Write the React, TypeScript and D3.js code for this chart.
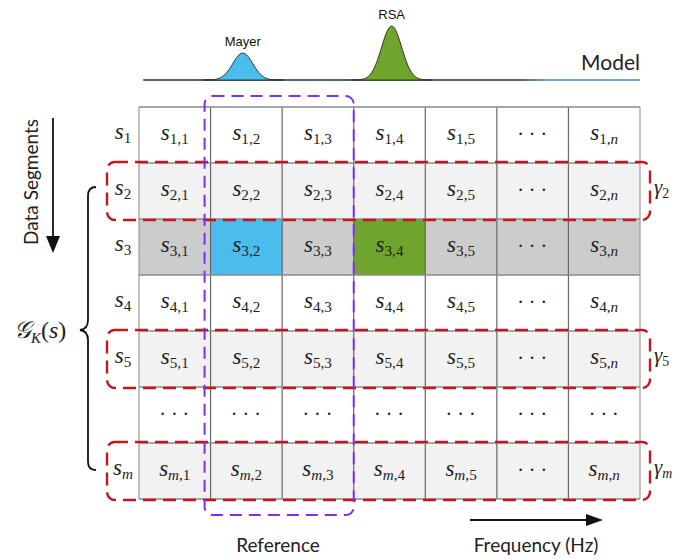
import * as d3 from "d3";

// rows (data segments) and columns (frequency bins)
const rowLabels = ["1", "2", "3", "4", "5", "dots", "m"];
const colLabels = ["1", "2", "3", "4", "5", "dots", "n"];
// row shading: 0 white, 1 light, 2 current segment
const rowShade = [0, 1, 2, 0, 1, 0, 1];
// grouped rows (red dashed) and their gamma labels
const groupRows = ["2", "5", "m"];
// highlighted cells in the current segment
const highlightCells = [
  { row: "3", col: "2", peak: "Mayer" },
  { row: "3", col: "4", peak: "RSA" },
];
// model peaks: centre in column units, width, relative height
const peakNames = ["Mayer", "RSA"];
const peakCenters = [1.45, 3.53];
const peakWidths = [0.14, 0.14];
const peakHeights = [0.5, 1.0];
const peakColors = ["#4bbdec", "#6fa52c"];
// reference columns (purple dashed)
const referenceCols = ["2", "3"];

const W = 694;
const H = 559;
const shadeFill = ["#ffffff", "#f2f2f2", "#cccccc"];
const red = "#c8141e";
const purple = "#7b2ff7";

const x = d3.scaleBand().domain(colLabels).range([139, 640]);
const y = d3.scaleBand().domain(rowLabels).range([107, 499]);
const freq = d3.scaleLinear().domain([0, colLabels.length]).range([139, 640]);
const amp = d3.scaleLinear().domain([0, 1]).range([80, 26]);

const serif = "'Liberation Serif', serif";
const sans = "Lato, 'Open Sans', sans-serif";
const arial = "'Liberation Sans', Arial, sans-serif";

const isLetter = (s: string) => /[a-z]/.test(s);

function Sub({ parts }: { parts: string[] }) {
  return (
    <>
      {parts.map((p, i) => (
        <tspan key={i} fontStyle={isLetter(p) ? "italic" : "normal"}>
          {p}
        </tspan>
      ))}
    </>
  );
}

function MathLabel({
  cx,
  cy,
  sym,
  sub,
  size = 23,
  anchor = "middle",
}: {
  cx: number;
  cy: number;
  sym: string;
  sub: string[];
  size?: number;
  anchor?: "middle" | "start";
}) {
  return (
    <text x={cx} y={cy} textAnchor={anchor} fontFamily={serif} fontSize={size} fill="#222">
      <tspan fontStyle="italic">{sym}</tspan>
      <tspan fontSize={size * 0.66} dy={size * 0.17}>
        <Sub parts={sub} />
      </tspan>
    </text>
  );
}

function Dots({ cx, cy }: { cx: number; cy: number }) {
  return (
    <text x={cx} y={cy} textAnchor="middle" fontFamily={serif} fontSize={20} letterSpacing={5} fill="#222">
      ···
    </text>
  );
}

function gaussPath(i: number) {
  const c = peakCenters[i];
  const s = peakWidths[i];
  const pts = d3.range(c - 4 * s, c + 4 * s + 1e-9, s / 10).map((v) => [
    v,
    peakHeights[i] * Math.exp(-((v - c) ** 2) / (2 * s * s)),
  ]);
  const area = d3
    .area<number[]>()
    .x((d) => freq(d[0]))
    .y0(amp(0))
    .y1((d) => amp(d[1]))
    .curve(d3.curveBasis);
  return area(pts) || "";
}

export default function App() {
  const bw = x.bandwidth();
  const bh = y.bandwidth();
  const left = x.range()[0];
  const right = x.range()[1];
  const top = y.range()[0];
  const bottom = y.range()[1];

  const refX0 = x(referenceCols[0])!;
  const refX1 = x(referenceCols[referenceCols.length - 1])! + bw;

  return (
    <svg width={W} height={H} viewBox={`0 0 ${W} ${H}`} style={{ position: "absolute", left: 0, top: 0, background: "#fff" }}>
      <defs>
        <linearGradient id="base" gradientUnits="userSpaceOnUse" x1={freq(0)} x2={freq(7)} y1={0} y2={0}>
          <stop offset="0%" stopColor="#1d2e3a" />
          <stop offset="76%" stopColor="#1d2e3a" />
          <stop offset="82%" stopColor="#4d8fc0" />
          <stop offset="100%" stopColor="#4d8fc0" />
        </linearGradient>
      </defs>

      {/* model */}
      <line x1={freq(0.06)} x2={freq(7)} y1={amp(0)} y2={amp(0)} stroke="url(#base)" strokeWidth={1.6} />
      {peakNames.map((name, i) => (
        <g key={name}>
          <path d={gaussPath(i)} fill={peakColors[i]} stroke="#2b3524" strokeWidth={1} />
          <text
            x={freq(peakCenters[i])}
            y={amp(peakHeights[i]) - 7}
            textAnchor="middle"
            fontFamily={arial}
            fontSize={13}
            fill="#111"
          >
            {name}
          </text>
        </g>
      ))}
      <text x={640} y={70} textAnchor="end" fontFamily={sans} fontSize={21} fill="#222">
        Model
      </text>

      {/* cells */}
      {rowLabels.map((r, ri) => (
        <g key={r}>
          {colLabels.map((c) => {
            const hl = highlightCells.find((h) => h.row === r && h.col === c);
            const fill = hl ? peakColors[peakNames.indexOf(hl.peak)] : shadeFill[rowShade[ri]];
            return <rect key={c} x={x(c)} y={y(r)} width={bw} height={bh} fill={fill} />;
          })}
        </g>
      ))}
      {/* grid lines */}
      {colLabels.concat(["end"]).map((c, i) => {
        const xx = i < colLabels.length ? x(c)! : right;
        return <line key={c} x1={xx} x2={xx} y1={top} y2={bottom} stroke={i === 0 || i === colLabels.length ? "#999" : "#666"} strokeWidth={1.2} />;
      })}
      {rowLabels.concat(["end"]).map((r, i) => {
        const yy = i < rowLabels.length ? y(r)! : bottom;
        return <line key={r} x1={left} x2={right} y1={yy} y2={yy} stroke="#8a8a8a" strokeWidth={1.6} />;
      })}

      {/* cell labels */}
      {rowLabels.map((r) =>
        colLabels.map((c) => {
          const cx = x(c)! + bw / 2;
          const cy = y(r)! + bh / 2;
          if (r === "dots" || c === "dots") return <Dots key={r + c} cx={cx + 2} cy={cy + 6} />;
          return <MathLabel key={r + c} cx={cx} cy={cy + 5} sym="s" sub={[r, ",", c]} />;
        })
      )}

      {/* row labels */}
      {rowLabels.map((r) =>
        r === "dots" ? null : (
          <MathLabel key={r} cx={123} cy={y(r)! + bh / 2 + 4} sym="s" sub={[r]} />
        )
      )}

      {/* grouped rows */}
      {groupRows.map((r) => (
        <g key={r}>
          <rect
            x={107}
            y={y(r)! - 1}
            width={543}
            height={bh + 2}
            rx={8}
            fill="none"
            stroke={red}
            strokeWidth={2.4}
            strokeDasharray="13 7"
          />
          <MathLabel cx={654} cy={y(r)! + bh / 2 + 3} sym="γ" sub={[r]} size={21} anchor="start" />
        </g>
      ))}

      {/* reference columns */}
      <rect
        x={refX0 - 6}
        y={96}
        width={refX1 - refX0 + 6}
        height={419}
        rx={8}
        fill="none"
        stroke={purple}
        strokeWidth={2}
        strokeDasharray="12 7"
      />

      {/* data segments axis */}
      <text
        transform="translate(38,182) rotate(-90)"
        textAnchor="middle"
        fontFamily={sans}
        fontSize={19}
        fill="#222"
      >
        Data Segments
      </text>
      <line x1={53} x2={53} y1={118} y2={238} stroke="#111" strokeWidth={1.8} />
      <path d="M46,236 L60,236 L53,253 Z" fill="#111" />

      {/* brace */}
      <path
        d="M96,187 Q88,187 88,196 L88,320 Q88,329 80,330 Q88,331 88,340 L88,462 Q88,470 96,470"
        fill="none"
        stroke="#111"
        strokeWidth={1.8}
      />
      <text x={14} y={338} fontFamily={serif} fontSize={24} fill="#222">
        <tspan fontStyle="italic">𝒢</tspan>
        <tspan fontSize={15} dy={5} fontStyle="italic">K</tspan>
        <tspan dy={-5}>(</tspan>
        <tspan fontStyle="italic">s</tspan>
        <tspan>)</tspan>
      </text>

      {/* bottom labels */}
      <text x={278} y={552} textAnchor="middle" fontFamily={sans} fontSize={19} fill="#222">
        Reference
      </text>
      <line x1={470} x2={588} y1={520} y2={520} stroke="#111" strokeWidth={1.8} />
      <path d="M586,514 L603,520 L586,526 Z" fill="#111" />
      <text x={536} y={552} textAnchor="middle" fontFamily={sans} fontSize={19} fill="#222">
        Frequency (Hz)
      </text>
    </svg>
  );
}
